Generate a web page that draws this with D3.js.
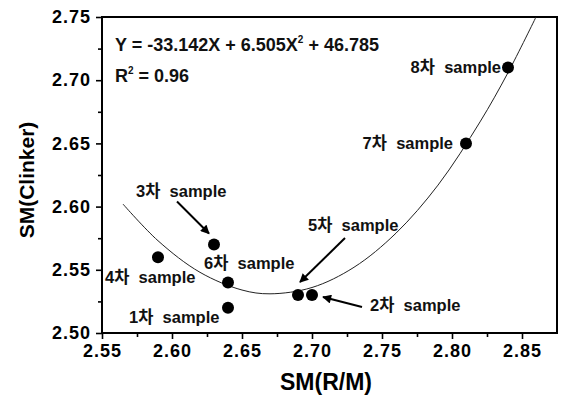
<!DOCTYPE html>
<html>
<head>
<meta charset="utf-8">
<script src="https://cdn.jsdelivr.net/npm/d3@7"></script>
<style>
  body { margin: 0; background: #fff; }
  svg { display: block; font-family: "Liberation Sans", Arial, "Noto Sans CJK KR", sans-serif; }
</style>
</head>
<body>
<div id="viz"></div>
<script>
// sample points, SM(R/M) vs SM(Clinker)
var names = ['1차', '2차', '3차', '4차', '5차', '6차', '7차', '8차'];
var smRM = [2.64, 2.70, 2.63, 2.59, 2.69, 2.64, 2.81, 2.84];
var smCl = [2.52, 2.53, 2.57, 2.56, 2.53, 2.54, 2.65, 2.71];

// fitted curve
var fitX = [2.565, 2.59, 2.62, 2.65, 2.67, 2.70, 2.73, 2.76, 2.79, 2.82, 2.84, 2.86];
var fitY = [2.602, 2.573, 2.548, 2.534, 2.531, 2.536, 2.552, 2.579, 2.617, 2.667, 2.706, 2.750];

var xTicks = [2.55, 2.60, 2.65, 2.70, 2.75, 2.80, 2.85];
var xMinor = [2.575, 2.625, 2.675, 2.725, 2.775, 2.825];
var yTicks = [2.50, 2.55, 2.60, 2.65, 2.70, 2.75];
var yMinor = [2.525, 2.575, 2.625, 2.675, 2.725];

var w = 563, h = 401;
var L = 102, R = 557, T = 17, B = 333;

var svg = d3.select('#viz').append('svg')
  .attr('width', w)
  .attr('height', h);

var x = d3.scaleLinear().domain([2.55, 2.875]).range([L, R]);
var y = d3.scaleLinear().domain([2.50, 2.75]).range([B, T]);

// label layout: offset from dot (px), anchor
var labPos = [
  [-99, 9, 'start'],
  [58, 10, 'start'],
  [-78, -54, 'start'],
  [-53, 20, 'start'],
  [10, -70, 'start'],
  [-24, -19, 'start'],
  [-13, 0, 'end'],
  [-7, -1, 'end']
];
// arrows: [point index, from dx, from dy, to dx, to dy]
var arrows = [
  [2, -37, -43, -5, -11],
  [4, 47, -57, 2, -13],
  [1, 50, 12, 11, 2]
];

svg.append('defs').append('marker')
  .attr('id', 'ah')
  .attr('viewBox', '0 0 10 10')
  .attr('refX', 9).attr('refY', 5)
  .attr('markerWidth', 5).attr('markerHeight', 4.5)
  .attr('markerUnits', 'strokeWidth')
  .attr('orient', 'auto')
  .append('path').attr('d', 'M0,0 L10,5 L0,10 z').attr('fill', '#000');

// axes
svg.append('g')
  .attr('transform', 'translate(0,' + B + ')')
  .call(d3.axisBottom(x).tickValues(xTicks).tickSize(6).tickPadding(5).tickFormat(d3.format('.2f')));
svg.append('g')
  .attr('transform', 'translate(0,' + B + ')')
  .call(d3.axisBottom(x).tickValues(xMinor).tickSize(4).tickFormat(''));

svg.append('g')
  .attr('transform', 'translate(' + L + ',0)')
  .call(d3.axisLeft(y).tickValues(yTicks).tickSize(6).tickPadding(5).tickFormat(d3.format('.2f')));
svg.append('g')
  .attr('transform', 'translate(' + L + ',0)')
  .call(d3.axisLeft(y).tickValues(yMinor).tickSize(4).tickFormat(''));

svg.selectAll('.domain').remove();
svg.selectAll('.tick line').attr('stroke', '#000').attr('stroke-width', 1.6);
svg.selectAll('.tick text')
  .attr('fill', '#000')
  .style('font-size', '18px')
  .style('letter-spacing', '1px')
  .style('font-weight', 'bold')
  .style('font-family', '"Liberation Sans", Arial, sans-serif');

// frame
svg.append('rect')
  .attr('x', L).attr('y', T)
  .attr('width', R - L).attr('height', B - T)
  .attr('fill', 'none')
  .attr('stroke', '#000')
  .attr('stroke-width', 2);

// fit curve
var fit = fitX.map((d, i) => [d, fitY[i]]);
svg.append('path')
  .datum(fit)
  .attr('fill', 'none')
  .attr('stroke', '#222')
  .attr('stroke-width', 1)
  .attr('d', d3.line().x(d => x(d[0])).y(d => y(d[1])).curve(d3.curveCatmullRom));

// points
var pts = names.map((n, i) => ({ name: n, x: smRM[i], y: smCl[i] }));
svg.append('g').selectAll('circle')
  .data(pts)
  .enter()
  .append('circle')
  .attr('cx', d => x(d.x))
  .attr('cy', d => y(d.y))
  .attr('r', 6)
  .attr('fill', '#000');

// point labels
svg.append('g').selectAll('text')
  .data(pts)
  .enter()
  .append('text')
  .attr('x', (d, i) => x(d.x) + labPos[i][0])
  .attr('y', (d, i) => y(d.y) + labPos[i][1] + 6)
  .attr('text-anchor', (d, i) => labPos[i][2])
  .style('font-size', '16.5px')
  .style('font-weight', 'bold')
  .attr('fill', '#111')
  .text(d => d.name + '\u00a0 sample');

// arrows
svg.append('g').selectAll('line')
  .data(arrows)
  .enter()
  .append('line')
  .attr('x1', a => x(pts[a[0]].x) + a[1])
  .attr('y1', a => y(pts[a[0]].y) + a[2])
  .attr('x2', a => x(pts[a[0]].x) + a[3])
  .attr('y2', a => y(pts[a[0]].y) + a[4])
  .attr('stroke', '#000')
  .attr('stroke-width', 2)
  .attr('marker-end', 'url(#ah)');

// equation
var eq = svg.append('text')
  .attr('x', 115).attr('y', 51)
  .style('font-size', '18px')
  .style('font-weight', 'bold')
  .attr('fill', '#111');
eq.append('tspan').text('Y = -33.142X + 6.505X');
eq.append('tspan').attr('dy', -8).style('font-size', '10px').text('2');
eq.append('tspan').attr('dy', 8).text(' + 46.785');

var r2 = svg.append('text')
  .attr('x', 115).attr('y', 82)
  .style('font-size', '18px')
  .style('font-weight', 'bold')
  .attr('fill', '#111');
r2.append('tspan').text('R');
r2.append('tspan').attr('dy', -8).style('font-size', '10px').text('2');
r2.append('tspan').attr('dy', 8).text(' = 0.96');

// axis titles
svg.append('text')
  .attr('x', 326).attr('y', 390)
  .attr('text-anchor', 'middle')
  .style('font-size', '23px')
  .style('font-weight', 'bold')
  .text('SM(R/M)');

svg.append('text')
  .attr('transform', 'translate(34,180) rotate(-90)')
  .attr('text-anchor', 'middle')
  .style('font-size', '21px')
  .style('font-weight', 'bold')
  .text('SM(Clinker)');
</script>
</body>
</html>
